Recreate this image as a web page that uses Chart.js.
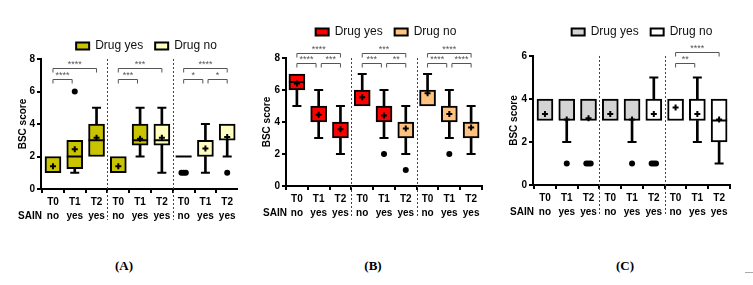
<!DOCTYPE html>
<html>
<head>
<meta charset="utf-8">
<script src="https://cdn.jsdelivr.net/npm/chart.js@4.4.0/dist/chart.umd.min.js"></script>
<style>
  body { margin: 0; background: #fff; width: 753px; height: 285px; overflow: hidden; position: relative; }
  canvas { position: absolute; top: 0; }
  .cap { position: absolute; top: 258px; font: bold 13px "Liberation Serif", serif; color: #000; transform: translateX(-50%); }
  .dash { position: absolute; left: 745px; top: 272px; width: 8px; height: 1px; background: #aaa; }
</style>
</head>
<body>
<canvas id="chartA" width="250" height="235" style="left:0px"></canvas>
<canvas id="chartB" width="250" height="235" style="left:250px"></canvas>
<canvas id="chartC" width="253" height="235" style="left:500px"></canvas>
<div class="cap" style="left:124px">(A)</div>
<div class="cap" style="left:373px">(B)</div>
<div class="cap" style="left:625px">(C)</div>
<div class="dash"></div>
<script>
// shared categories
var timeLabels = ["T0", "T1", "T2", "T0", "T1", "T2", "T0", "T1", "T2"];
var sainLabels = ["no", "yes", "yes", "no", "yes", "yes", "no", "yes", "yes"];
var drugGroup = ["yes", "yes", "yes", "yes", "yes", "no", "no", "no", "no"];

// panel A
var aTicks = [0, 2, 4, 6, 8];
var aQ1 = [1, 1.25, 2, 1, 2.7, 2.7, 2, 2, 3];
var aQ3 = [2, 3, 4, 2, 4, 4, 2, 3, 4];
var aMedian = [null, 2, 3, null, 3, 3, 2, null, null];
var aMin = [1, 1, 2, 1, 2, 1, 2, 1, 2];
var aMax = [2, 3, 5, 2, 5, 5, 2, 4, 4];
var aMean = [1.4, 2.45, 3.15, 1.4, 3.1, 3.15, null, 2.5, 3.2];
var aOutliers = [[], [6], [], [], [], [], [1, 1, 1], [], [1]];
var aBrackets = [
  { from: 0, to: 2, level: 7.45, stars: "****" },
  { from: 0, to: 1, level: 6.75, stars: "****" },
  { from: 3, to: 5, level: 7.45, stars: "***" },
  { from: 3, to: 4, level: 6.75, stars: "***" },
  { from: 6, to: 8, level: 7.45, stars: "****" },
  { from: 6, to: 7, level: 6.75, stars: "*" },
  { from: 7, to: 8, level: 6.75, stars: "*" }
];

// panel B
var bTicks = [0, 2, 4, 6, 8];
var bQ1 = [6, 4, 3, 5, 4, 3, 5, 4, 3];
var bQ3 = [7, 5, 4, 6, 5, 4, 6, 5, 4];
var bMedian = [6.5, null, null, null, null, null, null, null, null];
var bMin = [5, 3, 2, 5, 3, 2, 5, 3, 2];
var bMax = [7, 6, 5, 7, 6, 5, 7, 6, 5];
var bMean = [6.4, 4.45, 3.55, 5.55, 4.4, 3.6, 5.8, 4.5, 3.65];
var bOutliers = [[], [], [], [], [2], [1], [], [2], []];
var bBrackets = [
  { from: 0, to: 2, level: 8.33, stars: "****" },
  { from: 0, to: 1, level: 7.68, stars: "****" },
  { from: 1, to: 2, level: 7.68, stars: "***" },
  { from: 3, to: 5, level: 8.33, stars: "***" },
  { from: 3, to: 4, level: 7.68, stars: "***" },
  { from: 4, to: 5, level: 7.68, stars: "**" },
  { from: 6, to: 8, level: 8.33, stars: "****" },
  { from: 6, to: 7, level: 7.68, stars: "****" },
  { from: 7, to: 8, level: 7.68, stars: "****" }
];

// panel C
var cTicks = [0, 2, 4, 6];
var cQ1 = [3, 3, 3, 3, 3, 3, 3, 3, 2];
var cQ3 = [4, 4, 4, 4, 4, 4, 4, 4, 4];
var cMedian = [null, null, null, null, null, null, null, null, 3];
var cMin = [3, 2, 3, 3, 2, 3, 3, 2, 1];
var cMax = [4, 4, 4, 4, 4, 5, 4, 5, 4];
var cMean = [3.3, 3.05, 3.1, 3.3, 3.05, 3.3, 3.6, 3.3, 3.05];
var cOutliers = [[], [1], [1, 1, 1], [], [1], [1, 1, 1], [], [], []];
var cBrackets = [
  { from: 6, to: 8, level: 6.2, stars: "****" },
  { from: 6, to: 7, level: 5.66, stars: "**" }
];

var FONT = "'Liberation Sans', Arial, sans-serif";

function buildPanel(canvasId, p) {
  var yesBoxes = [], noBoxes = [], lowWhisk = [], upWhisk = [], caps = [], meds = [], means = [], outs = [];
  for (var i = 0; i < timeLabels.length; i++) {
    if (p.q1[i] < p.q3[i]) {
      var box = { x: i, y: [p.q1[i], p.q3[i]] };
      if (drugGroup[i] === "yes") yesBoxes.push(box); else noBoxes.push(box);
    }
    if (p.min[i] < p.q1[i]) {
      lowWhisk.push({ x: i, y: [p.min[i], p.q1[i]] });
      caps.push({ x: i, y: p.min[i] });
    }
    if (p.max[i] > p.q3[i]) {
      upWhisk.push({ x: i, y: [p.q3[i], p.max[i]] });
      caps.push({ x: i, y: p.max[i] });
    }
    if (p.median[i] !== null) meds.push({ x: i, y: p.median[i] });
    if (p.mean[i] !== null) means.push({ x: i, y: p.mean[i] });
    var o = p.outliers[i];
    for (var k = 0; k < o.length; k++) {
      outs.push({ x: i + (k - (o.length - 1) / 2) * 0.1, y: o[k] });
    }
  }

  var g = p.geo;
  var tickFont = { family: FONT, size: 10, weight: "bold" };

  var extras = {
    id: "extras",
    beforeLayout: function(chart) {
      if (chart.legend && !chart.legend._wrapped) {
        var fit = chart.legend.fit;
        chart.legend.fit = function() {
          fit.bind(chart.legend)();
          this.height = g.legendH;
        };
        chart.legend._wrapped = true;
      }
    },
    afterLayout: function(chart) {
      chart.legend.left += g.legendDx;
      chart.legend.right += g.legendDx;
    },
    afterDatasetsDraw: function(chart) {
      var ctx = chart.ctx;
      var xs = chart.scales.x, ys = chart.scales.y;
      var area = chart.chartArea;
      ctx.save();

      // dotted group dividers
      ctx.strokeStyle = "#444";
      ctx.lineWidth = 1;
      ctx.setLineDash([2, 2]);
      [2.5, 5.5].forEach(function(v) {
        var x = Math.round(xs.getPixelForValue(v)) + 0.5;
        ctx.beginPath();
        ctx.moveTo(x, area.top);
        ctx.lineTo(x, xs.top + 31);
        ctx.stroke();
      });
      ctx.setLineDash([]);

      // significance brackets
      ctx.strokeStyle = "#555";
      ctx.fillStyle = "#555";
      ctx.font = "9px " + FONT;
      ctx.textAlign = "center";
      ctx.textBaseline = "middle";
      p.brackets.forEach(function(b) {
        var x1 = xs.getPixelForValue(b.from + (b.from % 3 === 1 ? 0.12 : 0));
        var x2 = xs.getPixelForValue(b.to - (b.to % 3 === 1 ? 0.12 : 0));
        var y = Math.round(ys.getPixelForValue(b.level)) + 0.5;
        ctx.beginPath();
        ctx.moveTo(x1, y + 4);
        ctx.lineTo(x1, y);
        ctx.lineTo(x2, y);
        ctx.lineTo(x2, y + 4);
        ctx.stroke();
        ctx.fillText(b.stars, (x1 + x2) / 2, y - 4);
      });

      // SAIN row title
      ctx.fillStyle = "#000";
      ctx.font = "bold 10px " + FONT;
      ctx.textAlign = "right";
      ctx.fillText("SAIN", area.left + 1, xs.top + 6 + 14 * 1.5);
      ctx.restore();
    }
  };

  return new Chart(document.getElementById(canvasId), {
    type: "bar",
    data: {
      datasets: [
        { label: "Drug yes", data: yesBoxes, backgroundColor: p.yesColor, borderColor: "#000", borderWidth: 2,
          borderSkipped: false, barThickness: 16, grouped: false, order: 1 },
        { label: "Drug no", data: noBoxes, backgroundColor: p.noColor, borderColor: "#000", borderWidth: 2,
          borderSkipped: false, barThickness: 16, grouped: false, order: 1 },
        { label: "low", data: lowWhisk, backgroundColor: "#000", borderWidth: 0, barThickness: 2, grouped: false, order: 2 },
        { label: "up", data: upWhisk, backgroundColor: "#000", borderWidth: 0, barThickness: 2, grouped: false, order: 2 },
        { type: "scatter", label: "caps", data: caps, pointStyle: "line", pointRadius: 4.5,
          borderColor: "#000", pointBorderColor: "#000", pointBorderWidth: 2, borderWidth: 2, order: 0 },
        { type: "scatter", label: "median", data: meds, pointStyle: "line", pointRadius: 8,
          borderColor: "#000", pointBorderColor: "#000", pointBorderWidth: 2, borderWidth: 2, order: 0 },
        { type: "scatter", label: "mean", data: means, pointStyle: "cross", pointRadius: 3,
          borderColor: "#000", pointBorderColor: "#000", pointBorderWidth: 2, borderWidth: 2, order: 0 },
        { type: "scatter", label: "outliers", data: outs, pointStyle: "circle", pointRadius: 3,
          backgroundColor: "#000", pointBackgroundColor: "#000", borderColor: "#000", pointBorderWidth: 0, order: 0 }
      ]
    },
    options: {
      responsive: false,
      animation: false,
      events: [],
      layout: { padding: { top: g.padTop, right: g.padRight, left: 0, bottom: 0 } },
      plugins: {
        tooltip: { enabled: false },
        legend: {
          position: "top",
          labels: {
            boxWidth: 13, boxHeight: 7, padding: 12, color: "#111",
            font: { family: FONT, size: 12 },
            filter: function(item) { return item.datasetIndex < 2; }
          }
        }
      },
      scales: {
        x: {
          type: "linear", min: p.xMin, max: p.xMax, offset: false,
          afterBuildTicks: function(s) {
            s.ticks = timeLabels.map(function(t, i) { return { value: i }; });
          },
          afterFit: function(s) { s.height = g.xH; },
          ticks: {
            autoSkip: false, maxRotation: 0, padding: 2, color: "#000",
            font: { family: FONT, size: 10, weight: "bold", lineHeight: 1.4 },
            callback: function(v, i) { return [timeLabels[i], sainLabels[i]]; }
          },
          grid: { drawOnChartArea: false, drawTicks: true, tickLength: 4, color: "#000", lineWidth: 2 },
          border: { display: true, color: "#000", width: 2 }
        },
        y: {
          min: 0, max: p.yTicks[p.yTicks.length - 1],
          afterBuildTicks: function(s) {
            s.ticks = p.yTicks.map(function(v) { return { value: v }; });
          },
          afterFit: function(s) { s.width = g.yW; },
          ticks: { padding: 2, color: "#000", font: tickFont },
          grid: { drawOnChartArea: false, drawTicks: true, tickLength: 4, color: "#000", lineWidth: 2 },
          border: { display: true, color: "#000", width: 2 },
          title: { display: true, text: "BSC score", color: "#000", font: tickFont, padding: { top: g.titlePad, bottom: 0 } }
        }
      }
    },
    plugins: [extras]
  });
}

buildPanel("chartA", {
  q1: aQ1, q3: aQ3, median: aMedian, min: aMin, max: aMax, mean: aMean, outliers: aOutliers,
  brackets: aBrackets, yTicks: aTicks, yesColor: "#c9c300", noColor: "#ffffc0",
  xMin: -0.55, xMax: 8.45,
  geo: { yW: 41, padRight: 13, xH: 46, padTop: 28, legendH: 31, titlePad: 17, legendDx: 28 }
});

buildPanel("chartB", {
  q1: bQ1, q3: bQ3, median: bMedian, min: bMin, max: bMax, mean: bMean, outliers: bOutliers,
  brackets: bBrackets, yTicks: bTicks, yesColor: "#ff0000", noColor: "#ffc27f",
  xMin: -0.5, xMax: 8.5,
  geo: { yW: 36, padRight: 18, xH: 49, padTop: 14, legendH: 44, titlePad: 11, legendDx: 20 }
});

buildPanel("chartC", {
  q1: cQ1, q3: cQ3, median: cMedian, min: cMin, max: cMax, mean: cMean, outliers: cOutliers,
  brackets: cBrackets, yTicks: cTicks, yesColor: "#d4d4d4", noColor: "#ffffff",
  xMin: -0.55, xMax: 8.5,
  geo: { yW: 33, padRight: 23, xH: 50, padTop: 14, legendH: 42, titlePad: 8, legendDx: 27 }
});
</script>
</body>
</html>
